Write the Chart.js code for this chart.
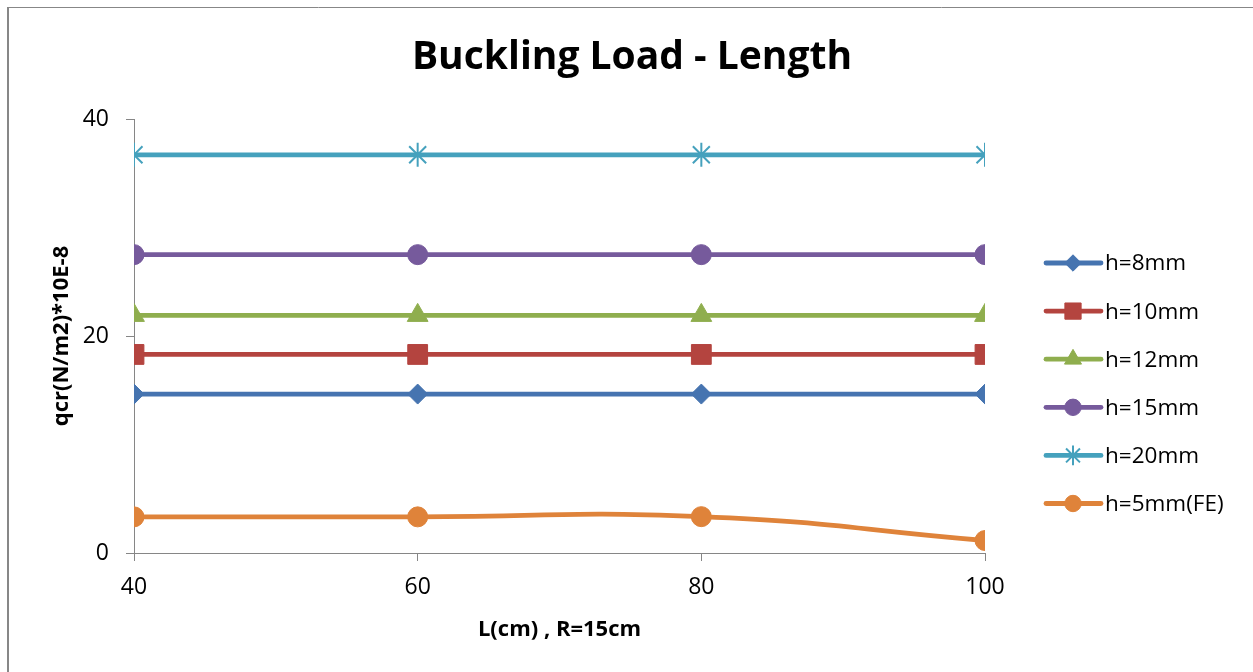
<!DOCTYPE html>
<html>
<head>
<meta charset="utf-8">
<title>Buckling Load - Length</title>
<script src="https://cdn.jsdelivr.net/npm/chart.js@4/dist/chart.umd.min.js"></script>
<style>
  html, body { margin: 0; padding: 0; background: #ffffff; }
  #wrap { width: 1253px; height: 672px; position: relative; }
</style>
</head>
<body>
<div id="wrap"><canvas id="chart" width="1253" height="672"></canvas></div>
<script>
// Length of the cylinder, cm (R = 15 cm)
const lengths = [40, 60, 80, 100];

// Critical buckling load qcr (N/m2) * 10E-8 for each wall thickness
const h8mm   = [14.65, 14.65, 14.65, 14.65];
const h10mm  = [18.3, 18.3, 18.3, 18.3];
const h12mm  = [21.9, 21.9, 21.9, 21.9];
const h15mm  = [27.5, 27.5, 27.5, 27.5];
const h20mm  = [36.7, 36.7, 36.7, 36.7];
const h5mmFE = [3.33, 3.33, 3.35, 1.15];

const seriesNames = ['h=8mm', 'h=10mm', 'h=12mm', 'h=15mm', 'h=20mm', 'h=5mm(FE)'];
const yTicks = [0, 20, 40];
const xTicks = [40, 60, 80, 100];

const FONT = "'Open Sans', 'Liberation Sans', sans-serif";
const AXIS_GRAY = '#868686';

function pts(values) {
  return lengths.map((x, i) => ({ x: x, y: values[i] }));
}

function series(label, values, color, style, radius, extra) {
  return Object.assign({
    label: label,
    data: pts(values),
    borderColor: color,
    backgroundColor: color,
    pointBackgroundColor: color,
    pointBorderColor: color,
    pointBorderWidth: 1,
    borderWidth: 4.8,
    pointStyle: style,
    pointRadius: radius,
    pointHoverRadius: radius,
    tension: 0,
    fill: false
  }, extra || {});
}

const datasets = [
  series(seriesNames[0], h8mm,  '#4674B0', 'rectRot', 10),
  series(seriesNames[1], h10mm, '#B4443F', 'rect', 14),
  series(seriesNames[2], h12mm, '#8FAE4E', 'triangle', 12),
  series(seriesNames[3], h15mm, '#765A9C', 'circle', 10),
  series(seriesNames[4], h20mm, '#45A1BD', 'star', 12, { pointBorderWidth: 2 }),
  series(seriesNames[5], h5mmFE, '#DF833A', 'circle', 10, { tension: 0.5 })
];

// Frame lines along the top and left edge, and white background
const framePlugin = {
  id: 'frame',
  beforeDraw(chart) {
    const ctx = chart.ctx;
    ctx.save();
    ctx.fillStyle = '#ffffff';
    ctx.fillRect(0, 0, chart.width, chart.height);
    ctx.strokeStyle = '#878787';
    ctx.lineWidth = 1;
    ctx.beginPath();
    ctx.moveTo(7, 7.5);
    ctx.lineTo(chart.width, 7.5);
    ctx.stroke();
    ctx.lineWidth = 2;
    ctx.beginPath();
    ctx.moveTo(8, 7);
    ctx.lineTo(8, chart.height);
    ctx.stroke();
    ctx.restore();
  }
};

// Legend: a short line with the series marker in its middle, then the name
const lineLegendPlugin = {
  id: 'lineLegend',
  afterDraw(chart) {
    const ctx = chart.ctx;
    const x0 = 1046, x1 = 1101, xm = 1073, xt = 1105;
    const top = 263, step = 48.1;
    ctx.save();
    chart.data.datasets.forEach((ds, i) => {
      const y = top + i * step;
      ctx.strokeStyle = ds.borderColor;
      ctx.lineWidth = ds.borderWidth;
      ctx.lineCap = 'round';
      ctx.beginPath();
      ctx.moveTo(x0, y);
      ctx.lineTo(x1, y);
      ctx.stroke();
      ctx.lineCap = 'butt';
      ctx.fillStyle = ds.pointBackgroundColor;
      ctx.strokeStyle = ds.pointBorderColor;
      ctx.lineWidth = ds.pointBorderWidth;
      Chart.helpers.drawPoint(ctx, {
        pointStyle: ds.pointStyle,
        radius: ds.pointRadius * 0.82,
        rotation: 0,
        borderWidth: ds.pointBorderWidth
      }, xm, y);
      ctx.fillStyle = '#000000';
      ctx.font = '22.5px ' + FONT;
      ctx.textAlign = 'left';
      ctx.textBaseline = 'middle';
      ctx.fillText(ds.label, xt, y + 1);
    });
    ctx.restore();
  }
};

// Chart title centred over the page
const titlePlugin = {
  id: 'bigTitle',
  afterDraw(chart) {
    const ctx = chart.ctx;
    ctx.save();
    ctx.fillStyle = '#000000';
    ctx.font = 'bold 39px ' + FONT;
    ctx.textAlign = 'center';
    ctx.textBaseline = 'middle';
    ctx.fillText('Buckling Load - Length', 632, 58);
    ctx.restore();
  }
};

new Chart(document.getElementById('chart'), {
  type: 'line',
  data: { datasets: datasets },
  plugins: [framePlugin, lineLegendPlugin, titlePlugin],
  options: {
    responsive: false,
    animation: false,
    events: [],
    layout: { padding: { left: 8, right: 268, top: 119, bottom: 0 } },
    plugins: {
      legend: { display: false },
      title: { display: false },
      tooltip: { enabled: false }
    },
    scales: {
      x: {
        type: 'linear',
        min: 40,
        max: 100,
        afterBuildTicks(scale) { scale.ticks = xTicks.map(v => ({ value: v })); },
        afterFit(scale) { scale.height = 672 - 553; },
        border: { display: true, color: AXIS_GRAY, width: 1 },
        grid: { drawOnChartArea: false, drawTicks: true, tickLength: 8, color: AXIS_GRAY },
        ticks: { color: '#000000', padding: 13, maxRotation: 0, font: { family: FONT, size: 23 } },
        title: {
          display: true,
          text: 'L(cm) , R=15cm',
          color: '#000000',
          font: { family: FONT, size: 22, weight: 'bold' },
          padding: { top: 0, bottom: 29 }
        }
      },
      y: {
        type: 'linear',
        min: 0,
        max: 40,
        afterBuildTicks(scale) { scale.ticks = yTicks.map(v => ({ value: v })); },
        afterFit(scale) { scale.width = 134 - 8; },
        border: { display: true, color: AXIS_GRAY, width: 1 },
        grid: { drawOnChartArea: false, drawTicks: true, tickLength: 8, color: AXIS_GRAY },
        ticks: { color: '#000000', padding: 17, font: { family: FONT, size: 23 } },
        title: {
          display: true,
          text: 'qcr(N/m2)*10E-8',
          color: '#000000',
          font: { family: FONT, size: 22, weight: 'bold' },
          padding: { top: 41, bottom: 0 }
        }
      }
    }
  }
});
</script>
</body>
</html>
